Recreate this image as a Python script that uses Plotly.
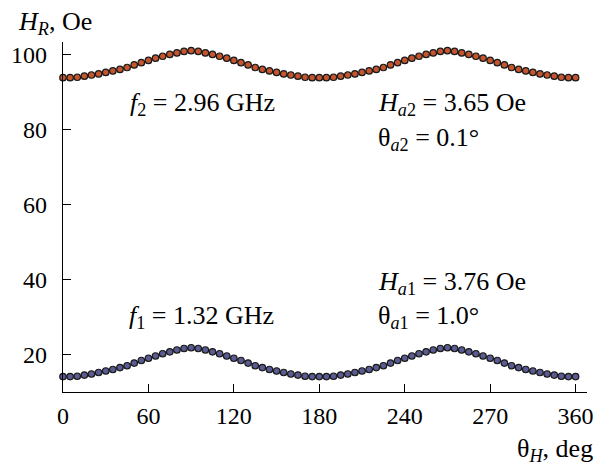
import plotly.graph_objects as go

theta_deg = list(range(0, 365, 5))

# f2 = 2.96 GHz branch (upper)
hr_f2 = [93.9, 93.9, 94.0, 94.3, 94.6, 94.9, 95.3, 95.7, 96.1, 96.6, 97.3, 97.9, 98.5, 99.1, 99.6, 100.1, 100.5, 100.9, 101.1,
         100.9, 100.5, 100.1, 99.6, 99.1, 98.5, 97.9, 97.3, 96.6, 96.1, 95.7, 95.3, 94.9, 94.6, 94.3, 94.0, 93.9, 93.9,
         93.9, 94.0, 94.3, 94.6, 94.9, 95.3, 95.7, 96.1, 96.6, 97.3, 97.9, 98.5, 99.1, 99.6, 100.1, 100.5, 100.9, 101.1,
         100.9, 100.5, 100.1, 99.6, 99.1, 98.5, 97.9, 97.3, 96.6, 96.1, 95.7, 95.3, 94.9, 94.6, 94.3, 94.0, 93.9, 93.9]

# f1 = 1.32 GHz branch (lower)
hr_f1 = [14.2, 14.2, 14.3, 14.6, 14.9, 15.3, 15.7, 16.1, 16.6, 17.1, 17.8, 18.5, 19.1, 19.7, 20.3, 20.8, 21.3, 21.7, 21.9,
         21.7, 21.3, 20.8, 20.3, 19.7, 19.1, 18.5, 17.8, 17.1, 16.6, 16.1, 15.7, 15.3, 14.9, 14.6, 14.3, 14.2, 14.2,
         14.2, 14.3, 14.6, 14.9, 15.3, 15.7, 16.1, 16.6, 17.1, 17.8, 18.5, 19.1, 19.7, 20.3, 20.8, 21.3, 21.7, 21.9,
         21.7, 21.3, 20.8, 20.3, 19.7, 19.1, 18.5, 17.8, 17.1, 16.6, 16.1, 15.7, 15.3, 14.9, 14.6, 14.3, 14.2, 14.2]

x_tickvals = [0, 60, 120, 180, 240, 300, 360]
x_ticktext = ["0", "60", "120", "180", "240", "270", "360"]
y_tickvals = [20, 40, 60, 80, 100]

FONT = "Liberation Serif"
W, H = 604, 466
ML, MR, MT, MB = 57, 11, 42, 74
XR = [0, 368]
YR = [10.1, 103.4]

def px_to_data(px, py):
    x = XR[0] + (px - ML) / (W - ML - MR) * (XR[1] - XR[0])
    y = YR[1] - (py - MT) / (H - MT - MB) * (YR[1] - YR[0])
    return x, y

def px_to_paper(px, py):
    return (px - ML) / (W - ML - MR), 1 - (py - MT) / (H - MT - MB)

fig = go.Figure()
for ys, col in [(hr_f2, "#c4552f"), (hr_f1, "#5b5b93")]:
    fig.add_trace(go.Scatter(
        x=theta_deg, y=ys, mode="lines+markers",
        line=dict(color="black", width=1),
        marker=dict(size=6.5, color=col, line=dict(color="#1a1a1a", width=1.2)),
        showlegend=False, cliponaxis=False))

ANN = 26
annots = [
    (123, 104, "<i>f</i><sub>2</sub> = 2.96 GHz"),
    (377, 104, "<i>H</i><sub><i>a</i>2</sub> = 3.65 Oe"),
    (377, 139, "θ<sub><i>a</i>2</sub> = 0.1°"),
    (377, 283, "<i>H</i><sub><i>a</i>1</sub> = 3.76 Oe"),
    (377, 317, "θ<sub><i>a</i>1</sub> = 1.0°"),
    (122, 317, "<i>f</i><sub>1</sub> = 1.32 GHz"),
]
for px, py, t in annots:
    x, y = px_to_data(px, py)
    fig.add_annotation(x=x, y=y, xref="x", yref="y", text=t, showarrow=False,
                       xanchor="left", yanchor="middle",
                       font=dict(family=FONT, size=ANN, color="black"))

x, y = px_to_paper(9, 23)
fig.add_annotation(x=x, y=y, xref="paper", yref="paper", text="<i>H</i><sub><i>R</i></sub>, Oe",
                   showarrow=False, xanchor="left", yanchor="middle",
                   font=dict(family=FONT, size=ANN, color="black"))
x, y = px_to_paper(601, 450)
fig.add_annotation(x=x, y=y, xref="paper", yref="paper", text="θ<sub><i>H</i></sub>, deg",
                   showarrow=False, xanchor="right", yanchor="middle",
                   font=dict(family=FONT, size=ANN, color="black"))

fig.update_layout(
    width=W, height=H,
    margin=dict(l=ML, r=MR, t=MT, b=MB, pad=0),
    paper_bgcolor="white", plot_bgcolor="white",
    font=dict(family=FONT, size=24, color="black"),
    xaxis=dict(range=XR, tickvals=x_tickvals, ticktext=x_ticktext,
               showgrid=False, zeroline=False, showline=True, linecolor="black", linewidth=1.3,
               ticks="inside", ticklen=8, tickwidth=1.2, tickcolor="black",
               tickfont=dict(family=FONT, size=24), ticklabelstandoff=2),
    yaxis=dict(range=YR, tickvals=y_tickvals,
               showgrid=False, zeroline=False, showline=True, linecolor="black", linewidth=1.3,
               ticks="inside", ticklen=8, tickwidth=1.2, tickcolor="black",
               tickfont=dict(family=FONT, size=24), ticklabelstandoff=10),
)

fig.write_html("out.html", config={"displayModeBar": False})

# remove the default page margin so the figure sits at the window's top-left corner
with open("out.html", "r", encoding="utf-8") as fh:
    html = fh.read()
html = html.replace("<head>", "<head><style>html,body{margin:0;padding:0;overflow:hidden;}</style>", 1)
with open("out.html", "w", encoding="utf-8") as fh:
    fh.write(html)
